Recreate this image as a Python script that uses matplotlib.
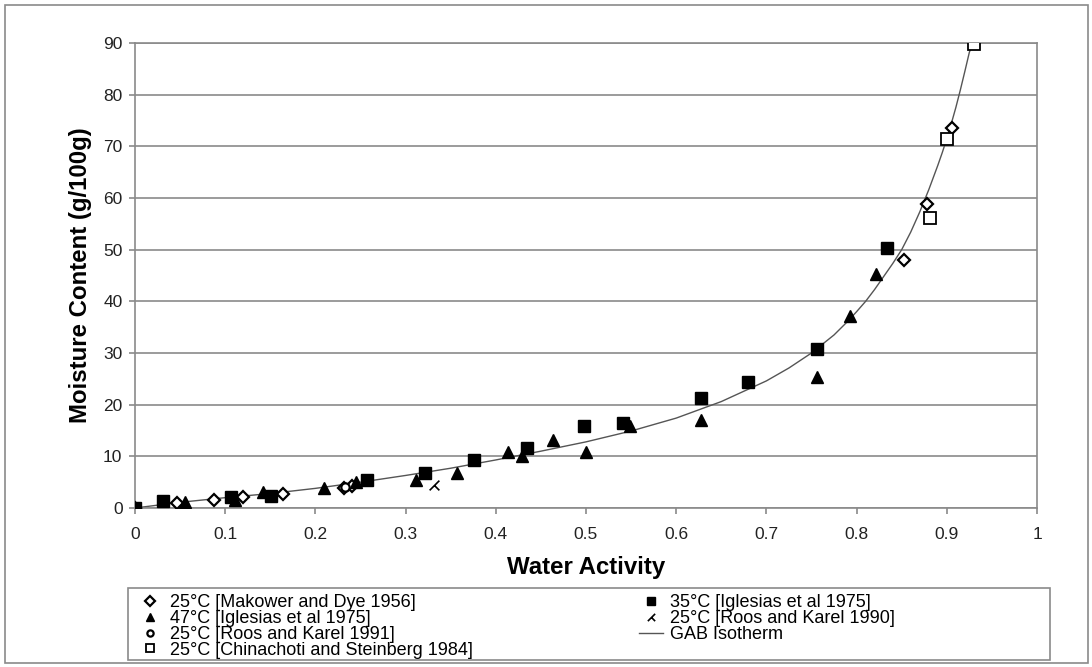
import matplotlib
matplotlib.use("Agg")
import matplotlib.pyplot as plt
from matplotlib.patches import Rectangle
from matplotlib.path import Path

plt.rcParams['font.family'] = ['Liberation Sans', 'DejaVu Sans']

# data
makower_aw = [0, 0.047, 0.088, 0.12, 0.164, 0.232, 0.241, 0.852, 0.878, 0.906]
makower_m = [0, 0.9, 1.6, 2.2, 2.8, 3.8, 4.2, 48.0, 58.8, 73.5]

ig35_aw = [0, 0.031, 0.106, 0.151, 0.257, 0.321, 0.376, 0.435, 0.498, 0.541, 0.627, 0.680, 0.756, 0.834]
ig35_m = [0, 1.3, 2.2, 2.3, 5.4, 6.7, 9.3, 11.7, 15.9, 16.5, 21.2, 24.4, 30.8, 50.4]

ig47_aw = [0.055, 0.111, 0.142, 0.209, 0.245, 0.312, 0.357, 0.414, 0.429, 0.463, 0.4996, 0.549, 0.628, 0.756, 0.793, 0.8215]
ig47_m = [1.2, 1.5, 3.1, 3.9, 5.1, 5.4, 6.7, 10.9, 10.1, 13.2, 10.9, 15.8, 17.0, 25.3, 37.2, 45.3]

roos91_aw = [0.233]
roos91_m = [4.0]

roos90_aw = [0.331]
roos90_m = [4.5]

chin_aw = [0.881, 0.900, 0.9305]
chin_m = [56.1, 71.4, 89.9]

# GAB isotherm, points
gab_aw = [0, 0.05, 0.1, 0.15, 0.2, 0.25, 0.3, 0.35, 0.4, 0.45, 0.5, 0.55, 0.6, 0.65,
          0.7, 0.725, 0.75, 0.76, 0.775, 0.79, 0.8, 0.81, 0.82, 0.83, 0.84, 0.85,
          0.86, 0.87, 0.88, 0.89, 0.895, 0.9, 0.905, 0.91, 0.915, 0.92, 0.925, 0.93]
gab_m = [0, 1.1, 2.0, 2.8, 3.8, 5.0, 6.3, 7.7, 9.3, 11.0, 12.8, 14.9, 17.4, 20.6,
         24.6, 27.1, 30.0, 31.4, 33.5, 36.1, 38.0, 40.0, 42.3, 44.8, 47.3, 50.0,
         53.4, 57.3, 61.6, 66.3, 68.8, 71.5, 74.4, 77.5, 80.9, 84.5, 88.2, 90.5]

xticks = [0, 0.1, 0.2, 0.3, 0.4, 0.5, 0.6, 0.7, 0.8, 0.9, 1]
xticklabels = ['0', '0.1', '0.2', '0.3', '0.4', '0.5', '0.6', '0.7', '0.8', '0.9', '1']
yticks = [0, 10, 20, 30, 40, 50, 60, 70, 80, 90]

# Excel-ish "x" marker with one short leg
cross_marker = Path([(1, 1), (-1, -1), (0, 0), (1, -1)],
                    [Path.MOVETO, Path.LINETO, Path.MOVETO, Path.LINETO])

W, H = 1092, 667
fig = plt.figure(figsize=(W / 100, H / 100), dpi=100)
ax = fig.add_axes([135 / W, 1 - 508 / H, 902 / W, 465 / H])

grey = '#8a8a8a'
ax.set_xlim(0, 1)
ax.set_ylim(0, 90)
ax.set_xticks(xticks)
ax.set_xticklabels(xticklabels)
ax.set_yticks(yticks)
ax.yaxis.grid(True, color=grey, lw=1.2)
ax.set_axisbelow(True)
for s in ax.spines.values():
    s.set_color(grey)
    s.set_linewidth(1.2)
ax.tick_params(direction='out', length=4, width=1.2, color=grey,
               labelsize=12.5, labelcolor='#222222')
ax.tick_params(axis='x', pad=10)
ax.tick_params(axis='y', pad=5)

g, = ax.plot(gab_aw, gab_m, color='#555555', lw=1.0, label='GAB Isotherm', zorder=2)

d, = ax.plot(makower_aw, makower_m, 'D', ms=6.5, mfc='white', mec='black', mew=1.6,
             ls='none', label='25°C [Makower and Dye 1956]', zorder=3)
t, = ax.plot(ig47_aw, ig47_m, '^', ms=8.5, color='black', ls='none',
             label='47°C [Iglesias et al 1975]', zorder=3)
c, = ax.plot(roos91_aw, roos91_m, 'o', ms=6, mfc='white', mec='black', mew=1.6,
             ls='none', label='25°C [Roos and Karel 1991]', zorder=3)
o, = ax.plot(chin_aw, chin_m, 's', ms=8.5, mfc='white', mec='black', mew=1.3,
             ls='none', label='25°C [Chinachoti and Steinberg 1984]', zorder=3)
sq, = ax.plot(ig35_aw, ig35_m, 's', ms=8.5, color='black', ls='none',
              label='35°C [Iglesias et al 1975]', zorder=3)
x, = ax.plot(roos90_aw, roos90_m, marker=cross_marker, ms=7, mec='black', mew=1.2,
             ls='none', label='25°C [Roos and Karel 1990]', zorder=3)

ax.set_xlabel('Water Activity', fontsize=17.3, fontweight='bold', labelpad=10)
ax.set_ylabel('Moisture Content (g/100g)', fontsize=17.3, fontweight='bold', labelpad=8)

# legend box and outer border
fig.patches.append(Rectangle((128 / W, 1 - 660 / H), 922 / W, 72 / H, transform=fig.transFigure,
                             fill=False, ec=grey, lw=1.2))
fig.patches.append(Rectangle((5 / W, 1 - 663 / H), 1083 / W, 658 / H, transform=fig.transFigure,
                             fill=False, ec=grey, lw=1.2))

handles = [d, t, c, o, sq, x, g]
leg = fig.legend(handles, [h.get_label() for h in handles],
                 ncol=2, loc='upper left', bbox_to_anchor=(138 / W, 1 - 594 / H),
                 frameon=False, fontsize=13, numpoints=1, handlelength=1.35,
                 handletextpad=0.4, labelspacing=-0.06, columnspacing=9.2,
                 borderaxespad=0, borderpad=0, markerscale=0.75)

fig.savefig('out.png', dpi=100)
